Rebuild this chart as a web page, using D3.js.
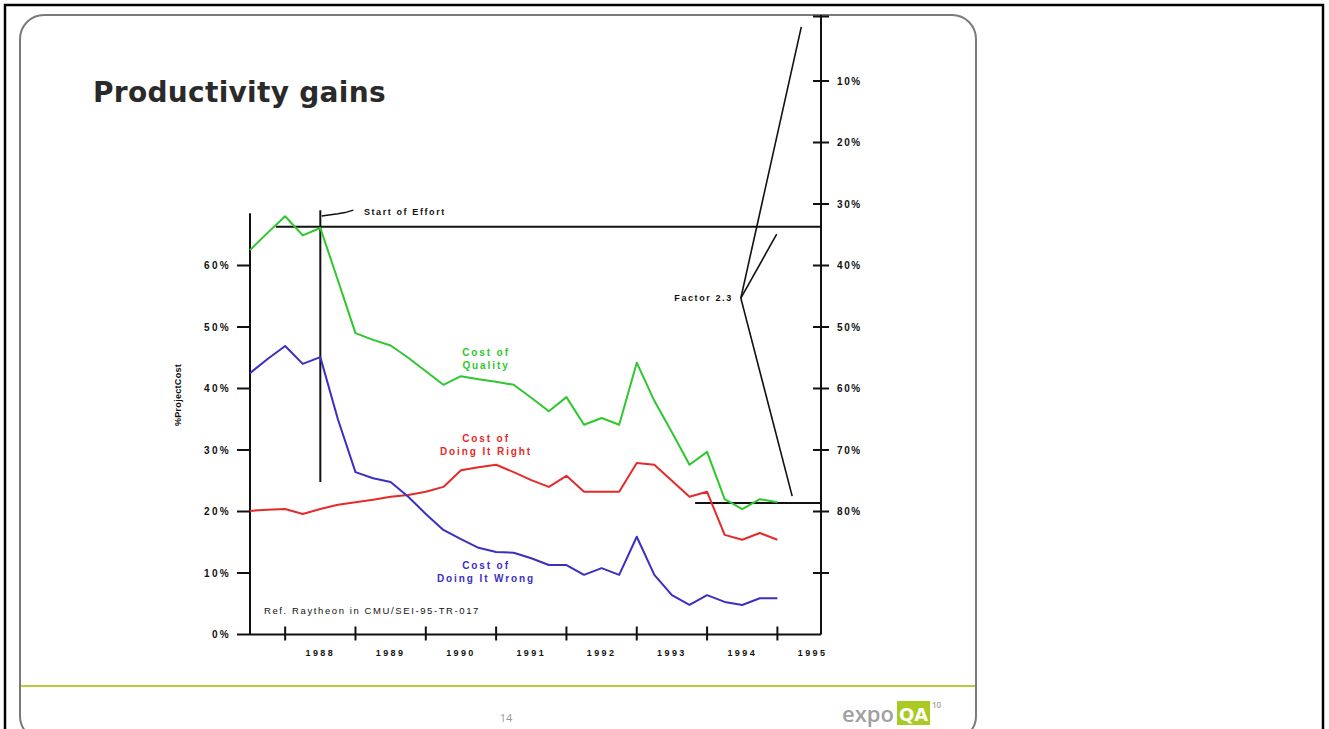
<!DOCTYPE html>
<html>
<head>
<meta charset="utf-8">
<script src="https://cdn.jsdelivr.net/npm/d3@7/dist/d3.min.js"></script>
<style>
  html, body { margin: 0; padding: 0; background: #fff; }
  svg { display: block; }
  .lbl { font-family: "Liberation Sans", Arial, sans-serif; font-weight: bold; }
</style>
</head>
<body>
<svg id="chart" width="1329" height="729"></svg>
<script>
// Quarterly observation points (fractional years)
const periods = [1987.5, 1987.75, 1988, 1988.25, 1988.5, 1988.75, 1989, 1989.25,
  1989.5, 1989.75, 1990, 1990.25, 1990.5, 1990.75, 1991, 1991.25, 1991.5, 1991.75,
  1992, 1992.25, 1992.5, 1992.75, 1993, 1993.25, 1993.5, 1993.75, 1994, 1994.25,
  1994.5, 1994.75, 1995];

// Share of project cost (%)
const costOfQuality = [62.5, 65.3, 68.0, 64.9, 66.1, 57.6, 49.0, 47.9, 47.0, 45.0,
  42.8, 40.6, 42.0, 41.5, 41.1, 40.6, 38.5, 36.3, 38.6, 34.1, 35.2, 34.1, 44.2,
  38.0, 32.9, 27.6, 29.7, 22.0, 20.4, 22.0, 21.5];
const costOfDoingItRight = [20.1, 20.3, 20.4, 19.6, 20.4, 21.1, 21.5, 21.9, 22.4,
  22.7, 23.2, 24.0, 26.7, 27.2, 27.6, 26.4, 25.1, 24.0, 25.8, 23.2, 23.2, 23.2,
  27.9, 27.6, 25.0, 22.4, 23.2, 16.2, 15.4, 16.5, 15.4];
const costOfDoingItWrong = [42.5, 44.8, 46.9, 44.0, 45.1, 35.0, 26.4, 25.4, 24.8,
  22.4, 19.6, 17.0, 15.5, 14.1, 13.4, 13.3, 12.4, 11.3, 11.3, 9.7, 10.8, 9.7,
  15.9, 9.7, 6.4, 4.8, 6.4, 5.3, 4.8, 5.9, 5.9];

// Axis ticks and labels
const yearBoundaries = [1988, 1989, 1990, 1991, 1992, 1993, 1994, 1995];
const yearLabels = ["1988", "1989", "1990", "1991", "1992", "1993", "1994", "1995"];
const leftTicks = [0, 10, 20, 30, 40, 50, 60];
const rightTicks = [0, 10, 20, 30, 40, 50, 60, 70, 80, 90];
const rightLabelled = [10, 20, 30, 40, 50, 60, 70, 80];

// Annotation anchors in data units [year, % of project cost]
const effortStart = 1988.5;
const upperLevel = 66.3;
const lowerLevel = 21.4;
const factorPoint = [1994.48, 54.7];
const factorEnds = [[1995.34, 98.8], [1994.99, 65.1], [1995.21, 22.5]];

const svg = d3.select("#chart");

// Outer frame
svg.append("rect").attr("x", 5).attr("y", 5).attr("width", 1318).attr("height", 740)
  .attr("fill", "none").attr("stroke", "#000").attr("stroke-width", 2.5);

// Slide panel
svg.append("rect").attr("x", 20).attr("y", 15).attr("width", 956).attr("height", 725)
  .attr("rx", 24).attr("ry", 24)
  .attr("fill", "#fff").attr("stroke", "#7a7a7a").attr("stroke-width", 2);

svg.append("text").attr("x", 93).attr("y", 102)
  .attr("font-family", "'DejaVu Sans', Verdana, sans-serif").attr("font-weight", "bold")
  .attr("font-size", 28).attr("letter-spacing", 0.3).attr("fill", "#2a2a2a")
  .text("Productivity gains");

// Footer rule, page number and logo
svg.append("line").attr("x1", 21).attr("x2", 975).attr("y1", 686).attr("y2", 686)
  .attr("stroke", "#b3cc3a").attr("stroke-width", 2);
svg.append("text").attr("x", 506).attr("y", 722).attr("text-anchor", "middle")
  .attr("font-family", "'Open Sans', sans-serif").attr("font-size", 11)
  .attr("fill", "#999").text("14");
svg.append("text").attr("x", 842).attr("y", 722)
  .attr("font-family", "'Open Sans', sans-serif").attr("font-weight", 600).attr("font-size", 22)
  .attr("fill", "#a0a0a0").text("expo");
svg.append("rect").attr("x", 897).attr("y", 701).attr("width", 33).attr("height", 24)
  .attr("fill", "#a9c923");
svg.append("text").attr("x", 913.5).attr("y", 721).attr("text-anchor", "middle")
  .attr("font-family", "'DejaVu Sans', sans-serif").attr("font-weight", "bold")
  .attr("font-size", 18).attr("fill", "#fff").text("QA");
svg.append("text").attr("x", 932).attr("y", 708)
  .attr("font-family", "'Open Sans', sans-serif").attr("font-weight", 600).attr("font-size", 8)
  .attr("fill", "#a0a0a0").text("10");

// Scales
const x = d3.scaleLinear().domain([1987.5, 1995.62]).range([250, 821]);
const yL = d3.scaleLinear().domain([0, 100]).range([634.5, 19.5]);
const yR = d3.scaleLinear().domain([0, 100]).range([19.5, 634.5]);

const g = svg.append("g");
const ink = "#111";

// Left axis
g.append("line").attr("x1", x(1987.5)).attr("x2", x(1987.5))
  .attr("y1", yL(0)).attr("y2", yL(68.5)).attr("stroke", ink).attr("stroke-width", 2);
g.selectAll(".ltick").data(leftTicks).join("line")
  .attr("x1", x(1987.5) - 13).attr("x2", x(1987.5))
  .attr("y1", d => yL(d)).attr("y2", d => yL(d))
  .attr("stroke", ink).attr("stroke-width", 2);
g.selectAll(".llab").data(leftTicks).join("text").attr("class", "lbl")
  .attr("x", x(1987.5) - 19).attr("y", d => yL(d) + 3.5)
  .attr("text-anchor", "end").attr("font-size", 10).attr("letter-spacing", 2.3)
  .attr("fill", ink).text(d => d + "%");
g.append("text").attr("class", "lbl")
  .attr("transform", `translate(181,395) rotate(-90)`)
  .attr("text-anchor", "middle").attr("font-size", 9).attr("letter-spacing", 0.3)
  .attr("fill", ink).text("%ProjectCost");

// Bottom axis
g.append("line").attr("x1", x(1987.5)).attr("x2", x(1995.62))
  .attr("y1", yL(0)).attr("y2", yL(0)).attr("stroke", ink).attr("stroke-width", 2);
g.selectAll(".xtick").data(yearBoundaries).join("line")
  .attr("x1", d => x(d)).attr("x2", d => x(d))
  .attr("y1", yL(0) - 8).attr("y2", yL(0) + 6)
  .attr("stroke", ink).attr("stroke-width", 2);
g.selectAll(".xlab").data(yearLabels).join("text").attr("class", "lbl")
  .attr("x", (d, i) => x(yearBoundaries[i] + 0.5)).attr("y", 656)
  .attr("text-anchor", "middle").attr("font-size", 9).attr("letter-spacing", 2.4)
  .attr("fill", ink).text(d => d);

// Right axis (complementary scale)
g.append("line").attr("x1", x(1995.62)).attr("x2", x(1995.62))
  .attr("y1", 15).attr("y2", yL(0)).attr("stroke", ink).attr("stroke-width", 2);
g.selectAll(".rtick").data(rightTicks).join("line")
  .attr("x1", x(1995.62) - 8).attr("x2", x(1995.62) + 8)
  .attr("y1", d => yR(d) - (d === 0 ? 3 : 0)).attr("y2", d => yR(d) - (d === 0 ? 3 : 0))
  .attr("stroke", ink).attr("stroke-width", 2);
g.selectAll(".rlab").data(rightLabelled).join("text").attr("class", "lbl")
  .attr("x", x(1995.62) + 16).attr("y", d => yR(d) + 3.5)
  .attr("font-size", 10).attr("letter-spacing", 1.6)
  .attr("fill", ink).text(d => d + "%");

// Reference levels and start-of-effort marker
g.append("line").attr("x1", x(1987.87)).attr("x2", x(1995.62))
  .attr("y1", yL(upperLevel)).attr("y2", yL(upperLevel))
  .attr("stroke", ink).attr("stroke-width", 2);
g.append("line").attr("x1", x(1993.83)).attr("x2", x(1995.62))
  .attr("y1", yL(lowerLevel)).attr("y2", yL(lowerLevel))
  .attr("stroke", ink).attr("stroke-width", 2);
g.append("line").attr("x1", x(effortStart)).attr("x2", x(effortStart))
  .attr("y1", yL(69.0)).attr("y2", yL(24.8)).attr("stroke", ink).attr("stroke-width", 2);
const leader = d3.line().x(d => x(d[0])).y(d => yL(d[1]));
g.append("path").attr("d", leader([[1988.52, 68.05], [1988.75, 68.4], [1988.85, 68.6], [1988.97, 69.0]]))
  .attr("fill", "none").attr("stroke", ink).attr("stroke-width", 1.5);
g.append("text").attr("class", "lbl").attr("x", x(1989.12)).attr("y", 215)
  .attr("font-size", 9).attr("letter-spacing", 1.6).attr("fill", ink).text("Start of Effort");

// Factor 2.3 annotation
factorEnds.forEach(e => {
  g.append("path").attr("d", leader([factorPoint, e]))
    .attr("fill", "none").attr("stroke", ink).attr("stroke-width", 1.6);
});
g.append("text").attr("class", "lbl").attr("x", x(factorPoint[0]) - 8)
  .attr("y", yL(factorPoint[1]) + 3).attr("text-anchor", "end")
  .attr("font-size", 9).attr("letter-spacing", 1.6).attr("fill", ink).text("Factor 2.3");

// Series
const series = [
  { values: costOfQuality, color: "#2ec72e", label: ["Cost of", "Quality"], ly: 356 },
  { values: costOfDoingItRight, color: "#e62a2a", label: ["Cost of", "Doing It Right"], ly: 442 },
  { values: costOfDoingItWrong, color: "#3b2fc2", label: ["Cost of", "Doing It Wrong"], ly: 569 }
];
const line = d3.line().x((d, i) => x(periods[i])).y(d => yL(d));
series.forEach(s => {
  g.append("path").attr("d", line(s.values)).attr("fill", "none")
    .attr("stroke", s.color).attr("stroke-width", 2).attr("stroke-linejoin", "round");
  s.label.forEach((t, k) => {
    g.append("text").attr("class", "lbl").attr("x", 486).attr("y", s.ly + k * 13)
      .attr("text-anchor", "middle").attr("font-size", 10).attr("letter-spacing", 1.9)
      .attr("fill", s.color).text(t);
  });
});

g.append("text").attr("x", 264).attr("y", 614)
  .attr("font-family", "'Liberation Sans', Arial, sans-serif")
  .attr("font-size", 9.5).attr("letter-spacing", 1.6).attr("fill", ink)
  .text("Ref. Raytheon in CMU/SEI-95-TR-017");
</script>
</body>
</html>
